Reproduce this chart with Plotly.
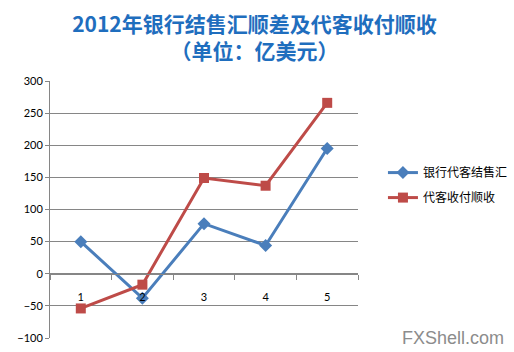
import plotly.graph_objects as go

categories = ["1", "2", "3", "4", "5"]
bank_fx = [50, -38, 78, 44, 195]
client_flow = [-54, -17, 149, 137, 266]
series_names = ["银行代客结售汇", "代客收付顺收"]
y_ticks = [-100, -50, 0, 50, 100, 150, 200, 250, 300]

fig = go.Figure()
fig.add_trace(go.Scatter(
    x=categories, y=bank_fx, name=series_names[0], mode="lines+markers",
    legendgroup="a",
    line=dict(color="#4A7EBB", width=3),
    marker=dict(symbol="diamond", size=10, color="#4A7EBB"),
))
fig.add_trace(go.Scatter(
    x=categories, y=client_flow, name=series_names[1], mode="lines+markers",
    legendgroup="b",
    line=dict(color="#BE4B48", width=3),
    marker=dict(symbol="square", size=10, color="#BE4B48"),
))

fig.update_layout(
    width=514, height=352,
    margin=dict(l=50, r=156, t=81, b=14, autoexpand=False),
    paper_bgcolor="white", plot_bgcolor="white",
    title=dict(
        text="2012年银行结售汇顺差及代客收付顺收<br>（单位：亿美元）",
        font=dict(family="Noto Sans CJK SC", size=21, color="#1F6EBE", weight="bold"),
        xref="container", x=0.495, xanchor="center",
        yref="container", y=0.91, yanchor="top",
    ),
    xaxis=dict(
        type="category", range=[-0.5, 4.5], tickson="boundaries",
        anchor="free", position=0.25,
        showline=True, linecolor="#868686", linewidth=1,
        ticks="outside", ticklen=5, tickcolor="#868686",
        ticklabelstandoff=13,
        showgrid=False, zeroline=False,
        tickfont=dict(family="Lato", size=11, color="black"),
    ),
    yaxis=dict(
        range=[-100, 300], tickvals=y_ticks,
        showline=True, linecolor="#868686", linewidth=1,
        ticks="outside", ticklen=4, tickcolor="#868686",
        showgrid=True, gridcolor="#868686", gridwidth=1,
        zeroline=False,
        tickfont=dict(family="Lato", size=11, color="black"),
    ),
    legend=dict(
        x=1.081, xanchor="left", y=0.595, yanchor="middle",
        font=dict(family="Noto Sans CJK SC", size=12, color="black"),
        bgcolor="rgba(0,0,0,0)", traceorder="grouped", tracegroupgap=6,
    ),
    showlegend=True,
)

fig.add_annotation(
    text="FXShell.com", xref="paper", yref="paper",
    x=1.136, y=0.0, xanchor="left", yanchor="middle", showarrow=False,
    font=dict(family="Liberation Sans", size=18, color="#8C8C8C"),
)

fig.write_html("out.html")
